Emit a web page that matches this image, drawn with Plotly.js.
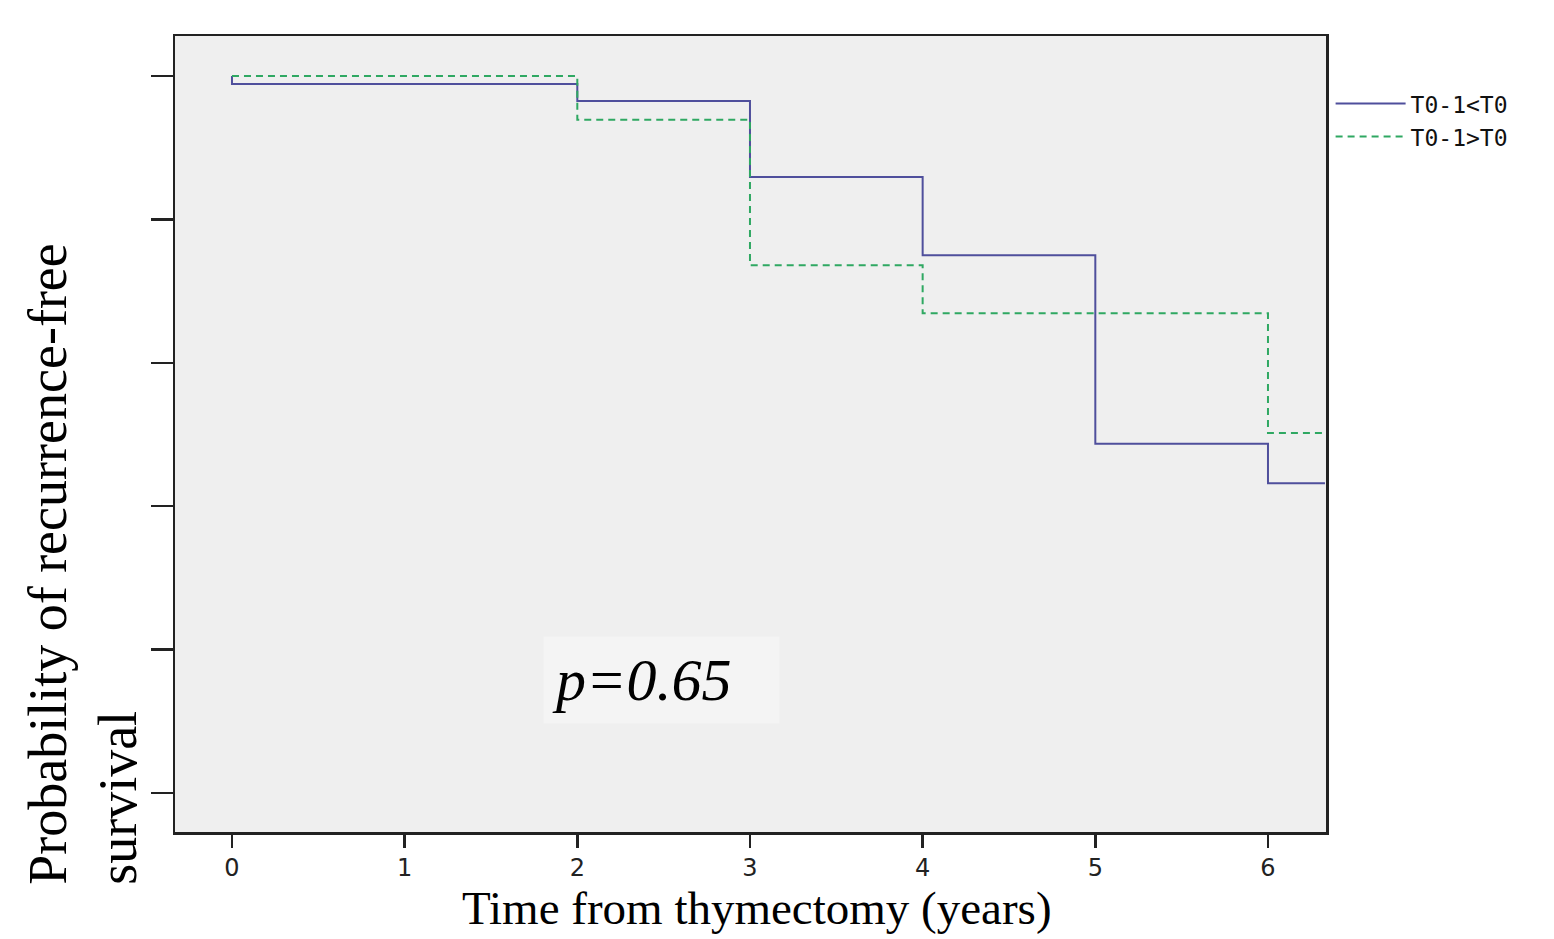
<!DOCTYPE html>
<html>
<head>
<meta charset="utf-8">
<script src="https://cdn.plot.ly/plotly-3.0.1.min.js"></script>
<style>html,body{margin:0;padding:0;background:#fff;}#chart{width:1554px;height:939px;}</style>
</head>
<body>
<div id="chart"></div>
<script>
// Time (years) and survival probability for each group (Kaplan-Meier steps)
const seriesNames = ["T0-1<T0", "T0-1>T0"];
const timeA = [0, 0, 2, 3, 4, 5, 6, 6.33];
const survA = [1.0, 0.989, 0.965, 0.859, 0.750, 0.487, 0.432, 0.432];
const timeB = [0, 2, 3, 4, 6, 6.33];
const survB = [1.0, 0.939, 0.736, 0.669, 0.502, 0.502];
const xTicks = [0, 1, 2, 3, 4, 5, 6];
const xTickLabels = ["0", "1", "2", "3", "4", "5", "6"];
const yTicks = [0, 0.2, 0.4, 0.6, 0.8, 1.0];
const pText = "p=0.65";

const traces = [
  {x: timeA, y: survA, name: seriesNames[0], mode: "lines",
   line: {shape: "hv", color: "#4f4f9c", width: 2}},
  {x: timeB, y: survB, name: seriesNames[1], mode: "lines",
   line: {shape: "hv", color: "#2fa862", width: 2, dash: "7px,5px"}}
];

const layout = {
  width: 1554, height: 939,
  margin: {l: 175, r: 228, t: 36, b: 107},
  paper_bgcolor: "#ffffff",
  plot_bgcolor: "#efefef",
  showlegend: true,
  legend: {x: 1.004, y: 0.942, xanchor: "left", yanchor: "top",
    bgcolor: "rgba(0,0,0,0)", itemwidth: 70, tracegroupgap: 0,
    font: {family: "DejaVu Sans Mono", size: 23, color: "#111"}},
  xaxis: {range: [-0.33, 6.336], tickvals: xTicks, ticktext: xTickLabels,
    showgrid: false, zeroline: false, showline: true, mirror: true,
    linecolor: "#222", linewidth: 2.5, ticks: "outside", ticklen: 13,
    tickwidth: 2.5, tickcolor: "#222",
    tickfont: {family: "DejaVu Sans", size: 24, color: "#222"}},
  yaxis: {range: [-0.0544, 1.0558], tickvals: yTicks, showticklabels: false,
    showgrid: false, zeroline: false, showline: true, mirror: true,
    linecolor: "#222", linewidth: 2.5, ticks: "outside", ticklen: 22,
    tickwidth: 2.5, tickcolor: "#222"},
  annotations: [
    {xref: "paper", yref: "paper", x: 0.5053, y: -0.060, xanchor: "center", yanchor: "top",
     text: "Time from thymectomy (years)", showarrow: false,
     font: {family: "Liberation Serif", size: 47, color: "#000"}},
    {xref: "paper", yref: "paper", x: -0.080, y: -0.069, xanchor: "center", yanchor: "bottom",
     textangle: -90, align: "left",
     text: "Probability of recurrence-free<br>survival", showarrow: false,
     font: {family: "Liberation Serif", size: 54, color: "#000"}},
    {xref: "x", yref: "y", x: 2.49, y: 0.158, xanchor: "center", yanchor: "middle",
     text: pText, showarrow: false, width: 219, height: 70, align: "left",
     bgcolor: "#f4f4f4", borderpad: 8,
     font: {family: "Liberation Serif", size: 60, color: "#000", style: "italic"}}
  ]
};

Plotly.newPlot("chart", traces, layout, {displayModeBar: false, staticPlot: true});
</script>
</body>
</html>
